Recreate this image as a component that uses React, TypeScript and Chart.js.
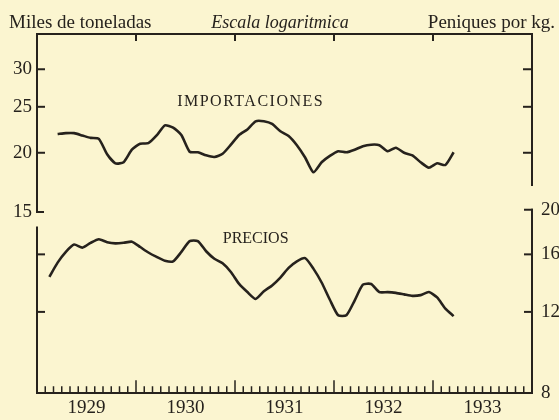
import React, { useEffect, useRef } from 'react';
import { Chart, registerables } from 'chart.js';

Chart.register(...registerables);

// ---- Data ----
const YEARS = [1929, 1930, 1931, 1932, 1933];
const MONTHS = ['ene', 'feb', 'mar', 'abr', 'may', 'jun', 'jul', 'ago', 'sep', 'oct', 'nov', 'dic'];
const MONTH_LABELS = YEARS.flatMap((y) => MONTHS.map((m) => `${m} ${y}`));

// Miles de toneladas (left log axis), monthly
const IMPORTACIONES: (number | null)[] = [
  null, null, 21.9, 22.0, 22.0, 21.75, 21.5, 21.4, 19.85, 19.0, 19.1, 20.3,
  20.9, 20.95, 21.75, 22.85, 22.6, 21.8, 20.1, 20.05, 19.75, 19.6, 19.9, 20.8,
  21.8, 22.4, 23.3, 23.3, 23.0, 22.2, 21.7, 20.75, 19.55, 18.2, 19.1, 19.7,
  20.15, 20.05, 20.3, 20.65, 20.8, 20.75, 20.15, 20.5, 20.0, 19.75, 19.1, 18.6,
  19.0, 18.85, 20.05, null, null, null, null, null, null, null, null, null,
];

// Peniques por kg. (right log axis), monthly
const PRECIOS: (number | null)[] = [
  null, 14.3, 15.35, 16.2, 16.8, 16.55, 16.95, 17.25, 17.0, 16.9, 16.95, 17.05,
  16.6, 16.15, 15.8, 15.5, 15.45, 16.2, 17.1, 17.1, 16.25, 15.65, 15.3, 14.65,
  13.8, 13.25, 12.8, 13.3, 13.7, 14.25, 14.95, 15.45, 15.7, 14.9, 13.9, 12.75,
  11.8, 11.8, 12.7, 13.75, 13.8, 13.25, 13.25, 13.2, 13.1, 13.0, 13.05, 13.25,
  12.9, 12.2, 11.75, null, null, null, null, null, null, null, null, null,
];

const LEFT_TICKS = [15, 20, 25, 30];
const RIGHT_TICKS = [8, 12, 16, 20];

// ---- Style ----
const BG = '#fbf5d0';
const INK = '#26221d';
const SERIF = '"Liberation Serif", "DejaVu Serif", serif';

const framePlugin = {
  id: 'frame',
  beforeDraw(chart: any) {
    const { ctx, width, height } = chart;
    ctx.save();
    ctx.fillStyle = BG;
    ctx.fillRect(0, 0, width, height);
    ctx.restore();
  },
  afterDraw(chart: any) {
    const { ctx, chartArea: a, scales } = chart;
    const xs = scales.x;
    const yL = scales.yL;
    const yR = scales.yR;
    const L = a.left;
    const R = a.right;
    const T = a.top;
    const B = a.bottom;
    ctx.save();
    ctx.strokeStyle = INK;
    ctx.lineWidth = 2;
    ctx.lineCap = 'square';
    const line = (x1: number, y1: number, x2: number, y2: number) => {
      ctx.beginPath();
      ctx.moveTo(x1, y1);
      ctx.lineTo(x2, y2);
      ctx.stroke();
    };
    // top border with year marks
    line(L, T, R, T);
    for (let k = 12; k < 60; k += 12) {
      const px = xs.getPixelForValue(k - 0.5);
      line(px, T, px, T + 6);
    }
    // upper panel, left axis
    const y15 = yL.getPixelForValue(15);
    line(L, T, L, y15);
    line(L, y15, L + 6, y15);
    [20, 25, 30].forEach((v) => {
      const py = yL.getPixelForValue(v);
      line(L, py, L + 7, py);
    });
    // upper panel, right side
    line(R, T, R, yL.getPixelForValue(17.1));
    [20, 25, 30].forEach((v) => {
      const py = yL.getPixelForValue(v);
      line(R - 8, py, R, py);
    });
    // lower panel, left side
    line(L, yR.getPixelForValue(18.3), L, B);
    [12, 16].forEach((v) => {
      const py = yR.getPixelForValue(v);
      line(L, py, L + 7, py);
    });
    // lower panel, right axis
    const y20 = yR.getPixelForValue(20);
    line(R, y20, R, B);
    [20, 16, 12].forEach((v) => {
      const py = yR.getPixelForValue(v);
      line(R - 7, py, R, py);
    });
    // bottom axis with monthly marks
    line(L, B, R, B);
    ctx.lineWidth = 1.5;
    for (let k = 1; k < 60; k++) {
      const px = xs.getPixelForValue(k - 0.5);
      const h = k % 12 === 0 ? 12 : 6;
      line(px, B, px, B - h);
    }

    // texts
    ctx.fillStyle = INK;
    ctx.textBaseline = 'alphabetic';
    ctx.font = `19px ${SERIF}`;
    ctx.textAlign = 'left';
    ctx.fillText('Miles de toneladas', 9, 28);
    ctx.textAlign = 'right';
    ctx.fillText('Peniques por kg.', 555, 28);
    ctx.font = `italic 18px ${SERIF}`;
    ctx.textAlign = 'center';
    ctx.fillText('Escala logaritmica', 280, 28);

    ctx.textBaseline = 'middle';
    ctx.font = `16px ${SERIF}`;
    (ctx as any).letterSpacing = '1.5px';
    ctx.fillText('IMPORTACIONES', xs.getPixelForValue(25.4), yL.getPixelForValue(25.6));
    (ctx as any).letterSpacing = '0px';
    ctx.fillText('PRECIOS', xs.getPixelForValue(26), yR.getPixelForValue(17.3));
    ctx.restore();
  },
};

export default function App() {
  const ref = useRef<HTMLCanvasElement | null>(null);

  useEffect(() => {
    const canvas = ref.current;
    if (!canvas) return;
    const tickFont = { family: SERIF, size: 19 };
    const chart = new Chart(canvas, {
      type: 'line',
      data: {
        labels: MONTH_LABELS,
        datasets: [
          {
            label: 'Importaciones',
            data: IMPORTACIONES,
            yAxisID: 'yL',
            borderColor: INK,
            borderWidth: 2.6,
            pointRadius: 0,
            tension: 0.2,
            fill: false,
          },
          {
            label: 'Precios',
            data: PRECIOS,
            yAxisID: 'yR',
            borderColor: INK,
            borderWidth: 2.6,
            pointRadius: 0,
            tension: 0.2,
            fill: false,
          },
        ],
      },
      options: {
        animation: false,
        responsive: false,
        maintainAspectRatio: false,
        layout: { padding: { top: 34, left: 0, right: 0, bottom: 0 } },
        plugins: { legend: { display: false }, tooltip: { enabled: false } },
        scales: {
          x: {
            type: 'category',
            offset: true,
            grid: { display: false, drawTicks: false },
            border: { display: false },
            ticks: {
              autoSkip: false,
              maxRotation: 0,
              minRotation: 0,
              padding: 4,
              labelOffset: 4,
              color: INK,
              font: tickFont,
              callback: (_v: any, i: number) => (i % 12 === 5 ? String(YEARS[Math.floor(i / 12)]) : ''),
            },
            afterFit: (s: any) => {
              s.height = 27;
            },
          },
          yL: {
            type: 'logarithmic',
            position: 'left',
            min: 6.23,
            max: 35.6,
            bounds: 'data',
            grid: { display: false, drawTicks: false },
            border: { display: false },
            ticks: {
              autoSkip: false,
              padding: 5,
              color: INK,
              font: tickFont,
              callback: (v: any) => String(v),
            },
            afterBuildTicks: (s: any) => {
              s.ticks = LEFT_TICKS.map((v) => ({ value: v }));
            },
            afterFit: (s: any) => {
              s.width = 37;
            },
          },
          yR: {
            type: 'logarithmic',
            position: 'right',
            min: 8,
            max: 48.15,
            bounds: 'data',
            grid: { display: false, drawTicks: false },
            border: { display: false },
            ticks: {
              autoSkip: false,
              padding: 9,
              color: INK,
              font: tickFont,
              callback: (v: any) => String(v),
            },
            afterBuildTicks: (s: any) => {
              s.ticks = RIGHT_TICKS.map((v) => ({ value: v }));
            },
            afterFit: (s: any) => {
              s.width = 27;
            },
          },
        },
      } as any,
      plugins: [framePlugin],
    });
    return () => chart.destroy();
  }, []);

  return (
    <div style={{ position: 'fixed', left: 0, top: 0, width: 559, height: 420, background: BG }}>
      <canvas ref={ref} width={559} height={420} style={{ display: 'block', width: 559, height: 420 }} />
    </div>
  );
}
